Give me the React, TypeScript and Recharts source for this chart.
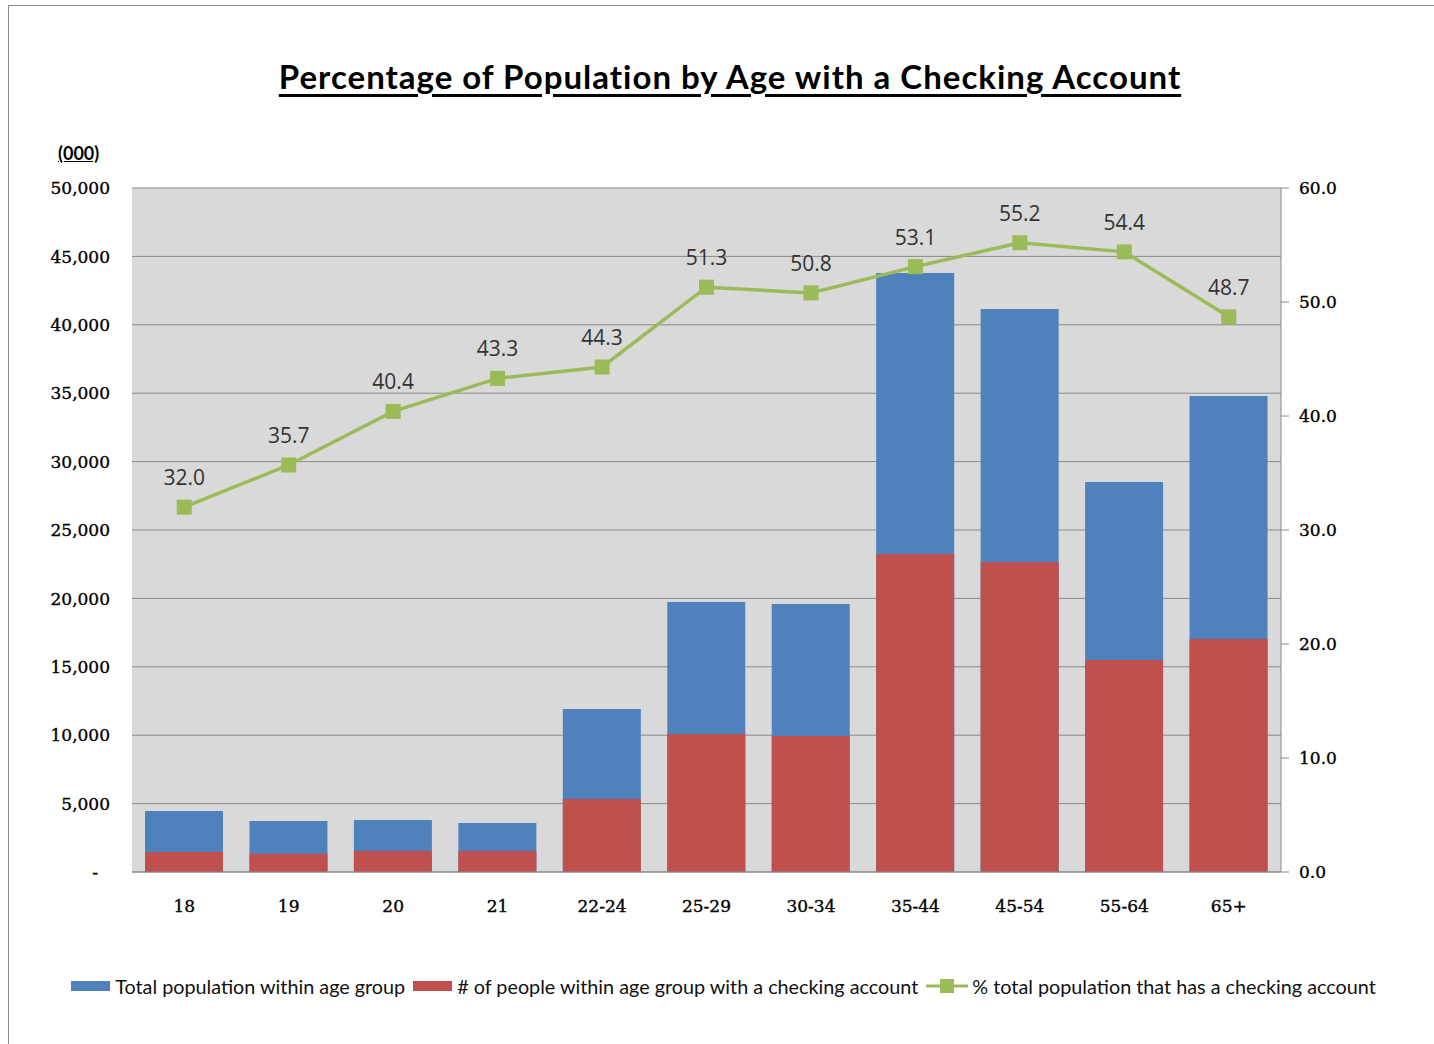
import React from 'react';
import {
  ComposedChart,
  Bar,
  Line,
  XAxis,
  YAxis,
  CartesianGrid,
  Legend,
  LabelList,
} from 'recharts';

const ageGroups = ['18', '19', '20', '21', '22-24', '25-29', '30-34', '35-44', '45-54', '55-64', '65+'];
// thousands of people
const totalPopulation = [4460, 3730, 3800, 3580, 11920, 19740, 19590, 43790, 41150, 28510, 34800];
const withChecking = [1460, 1330, 1540, 1540, 5340, 10090, 9940, 23250, 22660, 15500, 17030];
const pctWithChecking = [32.0, 35.7, 40.4, 43.3, 44.3, 51.3, 50.8, 53.1, 55.2, 54.4, 48.7];

const leftTicks = [0, 5000, 10000, 15000, 20000, 25000, 30000, 35000, 40000, 45000, 50000];
const rightTicks = [0, 10, 20, 30, 40, 50, 60];

const BLUE = '#4f81bd';
const RED = '#c0504d';
const GREEN = '#9bbb59';

const seriesNames = {
  total: 'Total population within age group',
  checking: '# of people within age group with a checking account',
  pct: '% total population that has a checking account',
};

const data = ageGroups.map((age, i) => ({
  age,
  total: totalPopulation[i],
  checking: withChecking[i],
  pct: pctWithChecking[i],
}));

const axisFont = {
  fontFamily: 'DejaVu Serif',
  fontSize: 17,
  fill: '#000',
  stroke: '#000',
  strokeWidth: 0.35,
};

const LeftTick = (props: any) => {
  const { x, y, payload } = props;
  const v = payload.value as number;
  const txt = v === 0 ? '-' : v.toLocaleString('en-US');
  return (
    <text x={v === 0 ? x - 12 : x} y={y} dy="0.36em" textAnchor="end" {...axisFont}>
      {txt}
    </text>
  );
};

const SquareDot = (props: any) => {
  const { cx, cy, index } = props;
  if (cx == null || cy == null) return null;
  return <rect key={`dot-${index}`} x={cx - 7.5} y={cy - 7.5} width={15} height={15} fill={GREEN} />;
};

const LegendContent = () => {
  const item = { display: 'flex', alignItems: 'center', marginRight: 8, flexShrink: 0 } as const;
  const swatch = (c: string) => (
    <span style={{ display: 'inline-block', width: 39, height: 10, background: c, marginRight: 5 }} />
  );
  return (
    <div
      style={{
        display: 'flex',
        justifyContent: 'center',
        alignItems: 'center',
        whiteSpace: 'nowrap',
        fontFamily: 'Lato',
        fontSize: 19.8,
        color: '#111',
        height: 30,
        position: 'relative',
        left: 16,
      }}
    >
      <div style={item}>
        {swatch(BLUE)}
        {seriesNames.total}
      </div>
      <div style={item}>
        {swatch(RED)}
        {seriesNames.checking}
      </div>
      <div style={item}>
        <svg width={42} height={16} style={{ marginRight: 4 }}>
          <line x1={0} y1={8} x2={42} y2={8} stroke={GREEN} strokeWidth={3} />
          <rect x={14} y={1} width={14} height={14} fill={GREEN} />
        </svg>
        {seriesNames.pct}
      </div>
    </div>
  );
};

export default function App() {
  return (
    <div
      style={{
        position: 'absolute',
        left: 8,
        top: 5,
        width: 1425,
        height: 1038,
        borderLeft: '1px solid #8a8a8a',
        borderTop: '1px solid #8a8a8a',
        background: '#fff',
        overflow: 'hidden',
      }}
    >
      <div
        style={{
          position: 'absolute',
          left: 0,
          width: 1442,
          top: 50,
          textAlign: 'center',
          fontFamily: 'Lato',
          fontWeight: 700,
          fontSize: 33,
          letterSpacing: 1,
          color: '#000',
          textDecoration: 'underline',
          textUnderlineOffset: 5,
        }}
      >
        Percentage of Population by Age with a Checking Account
      </div>
      <div
        style={{
          position: 'absolute',
          left: 49,
          top: 136,
          fontFamily: 'Lato',
          fontWeight: 700,
          fontSize: 18,
          color: '#000',
          textDecoration: 'underline',
        }}
      >
        (000)
      </div>
      <ComposedChart
        width={1425}
        height={1030}
        data={data}
        margin={{ top: 182, right: 53, left: 33, bottom: 35 }}
        barSize={78}
        barGap={-78}
      >
        <CartesianGrid vertical={false} stroke="#8a8a8a" fill="#d9d9d9" yAxisId="left" />
        <XAxis
          dataKey="age"
          height={99}
          tickLine={false}
          axisLine={{ stroke: '#8a8a8a' }}
          tickMargin={22}
          tick={axisFont}
          interval={0}
        />
        <YAxis
          yAxisId="left"
          width={90}
          domain={[0, 50000]}
          ticks={leftTicks}
          axisLine={false}
          tickLine={false}
          tickSize={0}
          tickMargin={22}
          tick={<LeftTick />}
        />
        <YAxis
          yAxisId="right"
          orientation="right"
          width={100}
          domain={[0, 60]}
          ticks={rightTicks}
          axisLine={{ stroke: '#8a8a8a' }}
          tickLine={{ stroke: '#8a8a8a' }}
          tickSize={8}
          tickMargin={10}
          tick={axisFont}
          tickFormatter={(v: number) => v.toFixed(1)}
        />
        <Bar yAxisId="left" dataKey="total" name={seriesNames.total} fill={BLUE} isAnimationActive={false} />
        <Bar yAxisId="left" dataKey="checking" name={seriesNames.checking} fill={RED} isAnimationActive={false} />
        <Line
          yAxisId="right"
          dataKey="pct"
          name={seriesNames.pct}
          stroke={GREEN}
          strokeWidth={3.5}
          dot={<SquareDot />}
          activeDot={false}
          isAnimationActive={false}
        >
          <LabelList
            dataKey="pct"
            position="top"
            offset={22}
            formatter={(v: number) => v.toFixed(1)}
            style={{ fontFamily: 'Open Sans', fontSize: 21, fill: '#333' }}
          />
        </Line>
        <Legend verticalAlign="bottom" wrapperStyle={{ height: 30 }} content={<LegendContent />} />
      </ComposedChart>
    </div>
  );
}
